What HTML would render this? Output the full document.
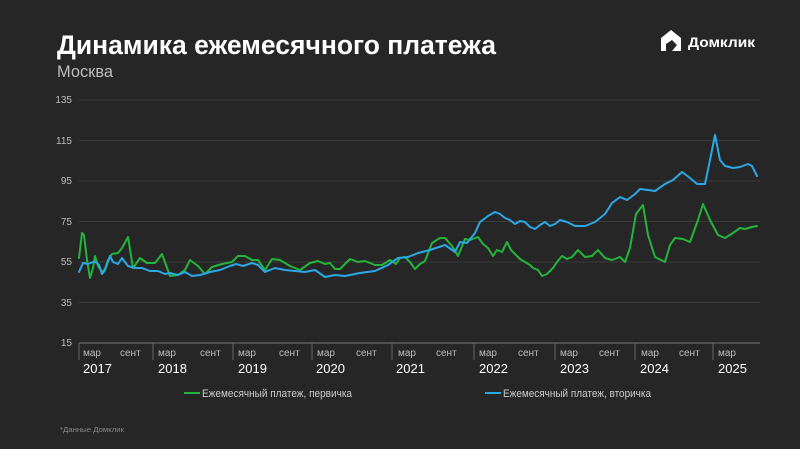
<!DOCTYPE html>
<html><head><meta charset="utf-8"><style>
html,body{margin:0;padding:0;background:#262626;}
svg{display:block;font-family:"Liberation Sans",sans-serif;}
</style></head><body>
<svg width="800" height="449" viewBox="0 0 800 449" xmlns="http://www.w3.org/2000/svg">
<rect width="800" height="449" fill="#262626"/>
<text x="57" y="54" font-size="27" font-weight="bold" fill="#fff" textLength="439" lengthAdjust="spacingAndGlyphs">Динамика ежемесячного платежа</text>
<text x="57" y="77" font-size="17" fill="#bdbdbd" textLength="56" lengthAdjust="spacingAndGlyphs">Москва</text>
<path d="M661 38 L671 30 L681 38 L681 51 L672 51 L677 45 L672 40 L666 44 L666 51 L661 51 Z" fill="#fff"/>
<text x="688" y="47" font-size="14" font-weight="bold" fill="#fff" textLength="67" lengthAdjust="spacingAndGlyphs">Домклик</text>
<g stroke="#3a3a3a" stroke-width="1">
<line x1="79" y1="100" x2="760" y2="100"/>
<line x1="79" y1="140.5" x2="760" y2="140.5"/>
<line x1="79" y1="181" x2="760" y2="181"/>
<line x1="79" y1="221.5" x2="760" y2="221.5"/>
<line x1="79" y1="262" x2="760" y2="262"/>
<line x1="79" y1="302.5" x2="760" y2="302.5"/>
</g>
<line x1="79" y1="343" x2="760" y2="343" stroke="#777" stroke-width="1"/>
<g fill="#bdbdbd" font-size="10" text-anchor="end">
<text x="72" y="103">135</text><text x="72" y="144">115</text><text x="72" y="184">95</text>
<text x="72" y="225">75</text><text x="72" y="265">55</text><text x="72" y="306">35</text><text x="72" y="346">15</text>
</g>
<g stroke="#666" stroke-width="1">
<line x1="79" y1="343" x2="79" y2="360"/><line x1="153" y1="343" x2="153" y2="360"/>
<line x1="233" y1="343" x2="233" y2="360"/><line x1="312" y1="343" x2="312" y2="360"/>
<line x1="392" y1="343" x2="392" y2="360"/><line x1="474" y1="343" x2="474" y2="360"/>
<line x1="555" y1="343" x2="555" y2="360"/><line x1="635" y1="343" x2="635" y2="360"/>
<line x1="713" y1="343" x2="713" y2="360"/>
</g>
<g fill="#bdbdbd" font-size="10">
<text x="83" y="356">мар</text><text x="120" y="356">сент</text>
<text x="158" y="356">мар</text><text x="200" y="356">сент</text>
<text x="238" y="356">мар</text><text x="279" y="356">сент</text>
<text x="317" y="356">мар</text><text x="356" y="356">сент</text>
<text x="398" y="356">мар</text><text x="436" y="356">сент</text>
<text x="479" y="356">мар</text><text x="518" y="356">сент</text>
<text x="560" y="356">мар</text><text x="599" y="356">сент</text>
<text x="641" y="356">мар</text><text x="679" y="356">сент</text>
<text x="718" y="356">мар</text>
</g>
<g fill="#fff" font-size="13">
<text x="83" y="373">2017</text><text x="158" y="373">2018</text><text x="238" y="373">2019</text>
<text x="316" y="373">2020</text><text x="396" y="373">2021</text><text x="479" y="373">2022</text>
<text x="560" y="373">2023</text><text x="640" y="373">2024</text><text x="718" y="373">2025</text>
</g>
<polyline fill="none" stroke="#22b53a" stroke-width="2" stroke-linejoin="round" stroke-linecap="round" points="79,258 82,233 84,235 87,260 90,278 93,268 95,256 98,266 102,272 105,269 108,260 112,254 118,253 122,248 128,237 133,268 140,258 147,263 155,263 162,254 170,276 178,275 185,270 190,260 198,266 205,274 212,267 222,264 232,262 238,256 245,256 252,260 258,260 265,270 272,259 280,260 290,266 300,270 310,263 318,261 325,264 330,263 335,269 340,269 345,264 350,259 358,262 365,261 375,265 382,265 390,260 396,264 400,258 405,257 410,262 415,269 420,264 425,261 432,243 440,238 445,238 452,246 458,256 465,239 470,240 478,237 483,244 488,248 493,256 497,250 502,252 507,242 511,250 515,254 520,259 525,262 530,265 533,268 538,270 542,276 547,274 553,268 557,262 562,256 567,259 572,257 578,250 585,257 592,256 598,250 605,258 612,260 620,257 625,262 630,248 636,214 643,205 648,235 655,257 665,262 670,245 675,238 683,239 690,242 698,220 703,204 710,220 718,235 725,238 733,233 740,228 745,229 752,227 757,226"/>
<polyline fill="none" stroke="#2aa8e6" stroke-width="2" stroke-linejoin="round" stroke-linecap="round" points="79,272 83,263 88,264 93,262 96,262 99,265 102,274 105,270 110,256 113,262 118,264 122,258 128,266 135,268 142,268 150,271 158,271 165,274 170,273 178,275 185,272 192,276 200,275 210,272 220,270 230,266 236,264 243,266 252,263 258,265 265,272 275,268 285,270 295,271 305,272 315,270 325,277 335,275 345,276 360,273 375,271 388,265 398,258 408,257 418,253 430,250 445,245 455,252 460,242 467,243 475,233 480,222 488,216 495,212 500,214 505,218 510,220 515,224 520,221 525,222 530,227 535,229 540,225 545,222 550,226 555,224 560,220 567,222 575,226 585,226 595,222 605,214 612,203 620,197 627,200 635,194 640,189 648,190 655,191 665,184 673,180 682,172 690,178 697,184 705,184 710,160 715,135 720,160 725,166 733,168 740,167 748,164 752,166 757,176"/>
<line x1="184" y1="393" x2="200" y2="393" stroke="#22b53a" stroke-width="2"/>
<text x="202" y="397" font-size="11" fill="#ccc" textLength="150" lengthAdjust="spacingAndGlyphs">Ежемесячный платеж, первичка</text>
<line x1="485" y1="393" x2="501" y2="393" stroke="#2aa8e6" stroke-width="2"/>
<text x="503" y="397" font-size="11" fill="#ccc" textLength="148" lengthAdjust="spacingAndGlyphs">Ежемесячный платеж, вторичка</text>
<text x="60" y="432" font-size="7" fill="#888" textLength="64" lengthAdjust="spacingAndGlyphs">*Данные Домклик</text>
</svg>
</body></html>
